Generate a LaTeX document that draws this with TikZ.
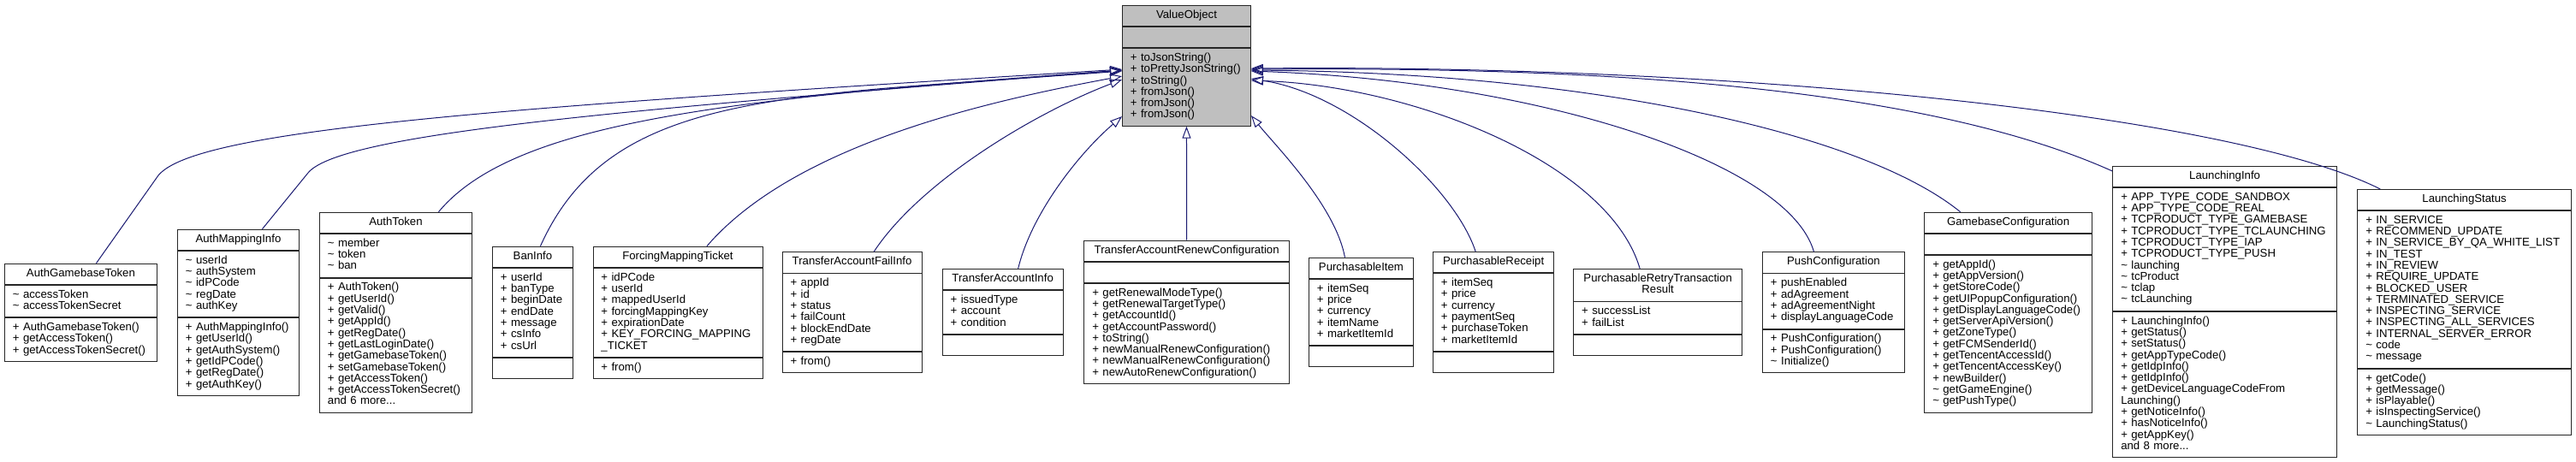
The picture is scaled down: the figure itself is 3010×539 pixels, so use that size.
\documentclass[tikz,border=0pt]{standalone}
\usepackage{fontspec}
\setmainfont{Liberation Sans}
\usetikzlibrary{positioning,arrows.meta}
\definecolor{edgeblue}{HTML}{191970}
\definecolor{vogray}{HTML}{BFBFBF}
\newcommand{\pkgv}{\textasciitilde\ }

\begin{document}
\begin{tikzpicture}[x=1pt, y=-1pt,
    clshead/.style={draw=black!85, line width=0.9pt, fill=white,
      font={\fontsize{13.2}{13.3}\selectfont\lineskiplimit=-20pt},
      align=center, inner xsep=9.5pt, inner ysep=5.35pt, anchor=north west,
      execute at begin node=\strut, execute at end node=\strut},
    clsbody/.style={clshead, align=left},
    inh/.style={draw=edgeblue, line width=1pt,
      -{Triangle[open, length=14pt, width=10pt]}}]
  \useasboundingbox (0,0) rectangle (3010,539);

  % caixa de classe: estilo, nome, canto, largura, titulo, atributos, metodos
  \def\umlclass#1#2#3#4#5#6#7{%
    \pgfmathsetmacro\clsw{#4-19}
    \node[clshead, #1, text width=\clsw pt] (#2) at (#3) {#5};
    \node[clsbody, #1, text width=\clsw pt, below=0pt of #2] (#2a) {#6};
    \node[clsbody, #1, text width=\clsw pt, below=0pt of #2a] (#2m) {#7};
  }

  % Classe base
  \umlclass{fill=vogray}{vo}{1311,6}{150}{ValueObject}{}
    {+ toJsonString()\\+ toPrettyJsonString()\\+ toString()\\+ fromJson()\\+ fromJson()\\+ fromJson()}

  % Subclasses (esquerda)
  \umlclass{}{agt}{5,307.7}{178}{AuthGamebaseToken}
    {\pkgv accessToken\\\pkgv accessTokenSecret}
    {+ AuthGamebaseToken()\\+ getAccessToken()\\+ getAccessTokenSecret()}
  \umlclass{}{ami}{207,267.7}{142}{AuthMappingInfo}
    {\pkgv userId\\\pkgv authSystem\\\pkgv idPCode\\\pkgv regDate\\\pkgv authKey}
    {+ AuthMappingInfo()\\+ getUserId()\\+ getAuthSystem()\\+ getIdPCode()\\+ getRegDate()\\+ getAuthKey()}
  \umlclass{}{at}{373,247.7}{178}{AuthToken}
    {\pkgv member\\\pkgv token\\\pkgv ban}
    {+ AuthToken()\\+ getUserId()\\+ getValid()\\+ getAppId()\\+ getRegDate()\\+ getLastLoginDate()\\+ getGamebaseToken()\\+ setGamebaseToken()\\+ getAccessToken()\\+ getAccessTokenSecret()\\and 6 more...}
  \umlclass{}{bi}{575,287.7}{94}{BanInfo}
    {+ userId\\+ banType\\+ beginDate\\+ endDate\\+ message\\+ csInfo\\+ csUrl}{}
  \umlclass{}{fmt}{692.5,287.7}{198}{ForcingMappingTicket}
    {+ idPCode\\+ userId\\+ mappedUserId\\+ forcingMappingKey\\+ expirationDate\\+ KEY\_FORCING\_MAPPING\\\_TICKET}
    {+ from()}
  \umlclass{}{tafi}{913.6,294.3}{163}{TransferAccountFailInfo}
    {+ appId\\+ id\\+ status\\+ failCount\\+ blockEndDate\\+ regDate}
    {+ from()}
  \umlclass{}{tai}{1100.7,314}{141}{TransferAccountInfo}
    {+ issuedType\\+ account\\+ condition}{}

  % Subclasse (abaixo)
  \umlclass{}{tarc}{1266.4,280.7}{239.6}{TransferAccountRenewConfiguration}{}
    {+ getRenewalModeType()\\+ getRenewalTargetType()\\+ getAccountId()\\+ getAccountPassword()\\+ toString()\\+ newManualRenewConfiguration()\\+ newManualRenewConfiguration()\\+ newAutoRenewConfiguration()}

  % Subclasses (direita)
  \umlclass{}{pi}{1529,300.7}{122}{PurchasableItem}
    {+ itemSeq\\+ price\\+ currency\\+ itemName\\+ marketItemId}{}
  \umlclass{}{pr}{1674,294}{141.4}{PurchasableReceipt}
    {+ itemSeq\\+ price\\+ currency\\+ paymentSeq\\+ purchaseToken\\+ marketItemId}{}
  \umlclass{}{prtr}{1838.2,314}{197}{PurchasableRetryTransaction\\Result}
    {+ successList\\+ failList}{}
  \umlclass{}{pc}{2059,294.3}{166}{PushConfiguration}
    {+ pushEnabled\\+ adAgreement\\+ adAgreementNight\\+ displayLanguageCode}
    {+ PushConfiguration()\\+ PushConfiguration()\\\pkgv Initialize()}
  \umlclass{}{gc}{2248.3,247.7}{195.7}{GamebaseConfiguration}{}
    {+ getAppId()\\+ getAppVersion()\\+ getStoreCode()\\+ getUIPopupConfiguration()\\+ getDisplayLanguageCode()\\+ getServerApiVersion()\\+ getZoneType()\\+ getFCMSenderId()\\+ getTencentAccessId()\\+ getTencentAccessKey()\\+ newBuilder()\\\pkgv getGameEngine()\\\pkgv getPushType()}
  \umlclass{}{li}{2468.3,194}{261.7}{LaunchingInfo}
    {+ APP\_TYPE\_CODE\_SANDBOX\\+ APP\_TYPE\_CODE\_REAL\\+ TCPRODUCT\_TYPE\_GAMEBASE\\+ TCPRODUCT\_TYPE\_TCLAUNCHING\\+ TCPRODUCT\_TYPE\_IAP\\+ TCPRODUCT\_TYPE\_PUSH\\\pkgv launching\\\pkgv tcProduct\\\pkgv tclap\\\pkgv tcLaunching}
    {+ LaunchingInfo()\\+ getStatus()\\+ setStatus()\\+ getAppTypeCode()\\+ getIdpInfo()\\+ getIdpInfo()\\+ getDeviceLanguageCodeFrom\\Launching()\\+ getNoticeInfo()\\+ hasNoticeInfo()\\+ getAppKey()\\and 8 more...}
  \umlclass{}{ls}{2754.3,221}{249.7}{LaunchingStatus}
    {+ IN\_SERVICE\\+ RECOMMEND\_UPDATE\\+ IN\_SERVICE\_BY\_QA\_WHITE\_LIST\\+ IN\_TEST\\+ IN\_REVIEW\\+ REQUIRE\_UPDATE\\+ BLOCKED\_USER\\+ TERMINATED\_SERVICE\\+ INSPECTING\_SERVICE\\+ INSPECTING\_ALL\_SERVICES\\+ INTERNAL\_SERVER\_ERROR\\\pkgv code\\\pkgv message}
    {+ getCode()\\+ getMessage()\\+ isPlayable()\\+ isInspectingService()\\\pkgv LaunchingStatus()}

  % Heranca: lado esquerdo
  \draw[inh] ([xshift=18pt]agt.north) -- (185,205)
    .. controls (230,150) and (600,125) .. ([yshift=-25pt]vom.north west);
  \draw[inh] ([xshift=28pt]ami.north) -- (360,202)
    .. controls (400,153) and (780,125) .. ([yshift=-26pt]vom.north west);
  \draw[inh] ([xshift=50pt]at.north)
    .. controls (602,140) and (861,115) .. ([yshift=-26pt]vom.north west);
  \draw[inh] ([xshift=9pt]bi.north)
    .. controls (713,106) and (911,113) .. ([yshift=-27pt]vom.north west);
  \draw[inh] ([xshift=34pt]fmt.north)
    .. controls (930,167) and (1161,117) .. ([yshift=-33pt]vom.north west);
  \draw[inh] ([xshift=25.5pt]tafi.north)
    .. controls (1076,211) and (1211,131) .. ([yshift=-37pt]vom.north west);
  \draw[inh] ([xshift=18pt]tai.north)
    .. controls (1205,250) and (1260,180) .. ([yshift=-80pt]vom.north west);

  % Heranca: abaixo
  \draw[inh] (tarc.north) -- (vom.south);

  % Heranca: lado direito
  \draw[inh] ([xshift=-19pt]pi.north)
    .. controls (1560,240) and (1490,170) .. ([yshift=-79pt]vom.north east);
  \draw[inh] ([xshift=-21pt]pr.north)
    .. controls (1700,220) and (1580,110) .. ([yshift=-36pt]vom.north east);
  \draw[inh] ([xshift=-21pt]prtr.north)
    .. controls (1880,190) and (1650,100) .. ([yshift=-38pt]vom.north east);
  \draw[inh] ([xshift=-23pt]pc.north)
    .. controls (2090,190) and (1800,95) .. ([yshift=-27pt]vom.north east);
  \draw[inh] ([xshift=-56pt]gc.north)
    .. controls (2174,153) and (1850,85) .. ([yshift=-26pt]vom.north east);
  \draw[inh] ([yshift=-6pt]li.north west)
    .. controls (2241,98) and (1850,78) .. ([yshift=-25pt]vom.north east);
  \draw[inh] ([xshift=27pt]ls.north west)
    .. controls (2600,130) and (2000,75) .. ([yshift=-24pt]vom.north east);
\end{tikzpicture}
\end{document}
